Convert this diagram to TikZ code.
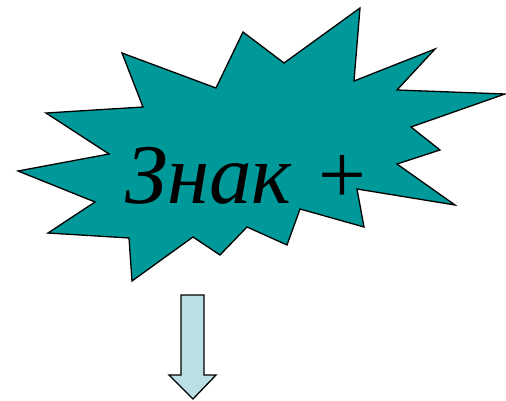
\documentclass[tikz,border=0pt]{standalone}
\usepackage{fontspec}
\setmainfont{Liberation Serif}
\usepackage{tikz}
\usetikzlibrary{arrows.meta}
\definecolor{burst}{RGB}{0,153,153}
\definecolor{pale}{RGB}{187,224,227}
\begin{document}
\begin{tikzpicture}[x=1pt,y=-1pt,
  burstline/.style={draw=black,line width=1.3pt,line join=miter,fill=burst},
  blockarrow/.style={draw=black,line width=1.3pt,fill=pale}]
\useasboundingbox(0,0)rectangle(506,401);
\draw[burstline](122,53)--(216,88)--(243,32)--(284,63)--(360,8)--(354,81)--(435,49)--(397,90)
--(505,94)--(411,127)--(440,150)--(397,164)--(455,205)--(357,189)--(364,227)--(300,209)
--(287,245)--(247,227)--(220,255)--(193,237)--(132,281)--(129,238)--(48,233)--(95,202)
--(18,171)--(109,154)--(46,113)--(143,107)--cycle;
\node[anchor=base west,inner sep=0pt,font=\fontsize{85}{95}\selectfont](sign) at (125,203){\textit{Знак}~\kern5pt+};
\draw[blockarrow](181,295)--(204,295)--(204,375)--(216,375)--(193,399)--(169,375)--(181,375)--cycle;
\end{tikzpicture}
\end{document}
